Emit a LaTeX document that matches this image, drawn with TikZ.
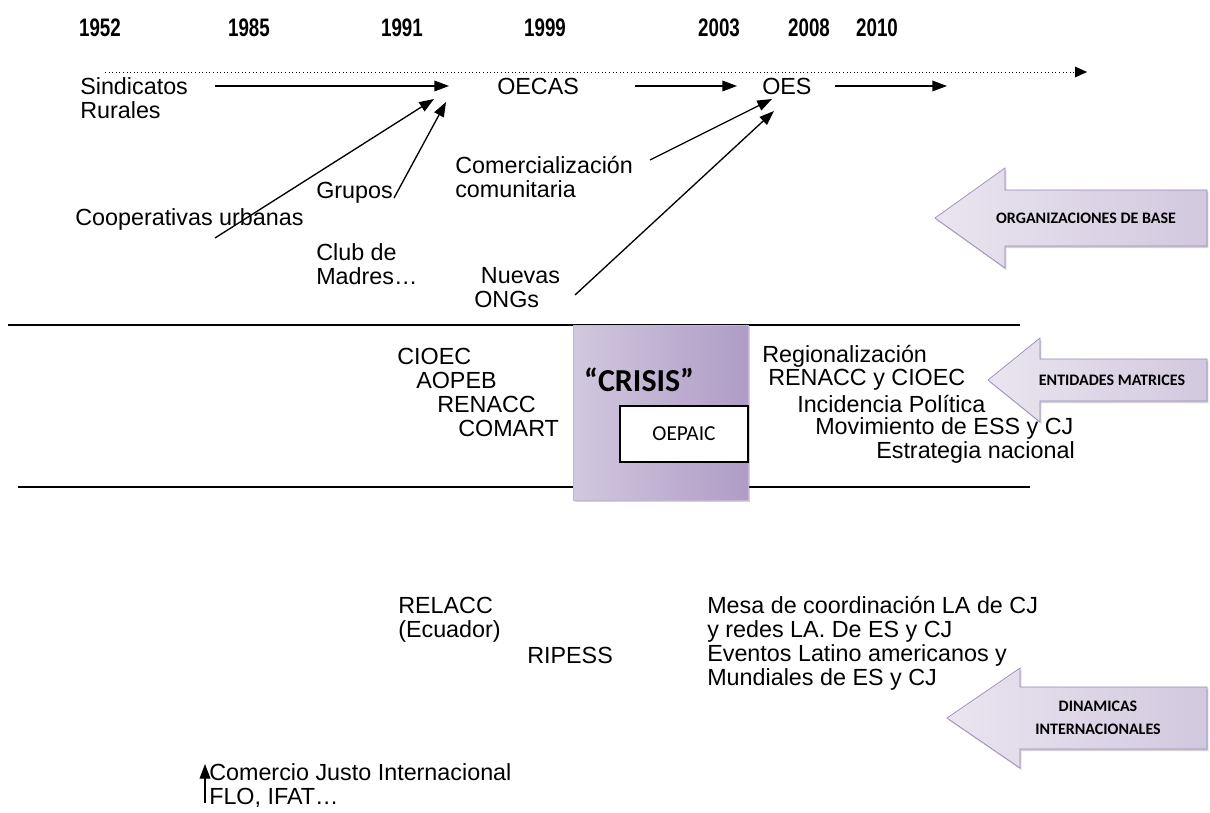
\documentclass[tikz,border=0pt]{standalone}
\usepackage{fontspec}
\setmainfont{Liberation Sans}
\newfontfamily\calibri{Carlito}
\newfontfamily\narrow[FakeStretch=0.74]{Liberation Sans}
\usetikzlibrary{arrows.meta,shadows}

\definecolor{lavlight}{HTML}{EAE5F0}
\definecolor{lavmid}{HTML}{D2C8DF}
\definecolor{lavdark}{HTML}{AE9CC6}
\definecolor{lavedge}{HTML}{9A86B8}

\tikzset{
    txt/.style={anchor=west, inner sep=0pt, align=left, font=\fontsize{17.5}{18}\selectfont},
    year/.style={inner sep=0pt, font=\narrow\bfseries\fontsize{19}{20}\selectfont},
    conn/.style={-{Triangle[length=11pt,width=8pt]}, line width=1pt},
    timeline/.style={dotted, line width=0.7pt, -{Triangle[length=9pt,width=8pt]}},
    sepline/.style={line width=1pt},
    bigarrow/.style={left color=lavlight, right color=lavmid, draw=lavedge, line width=0.5pt,
        drop shadow={opacity=0.35, shadow xshift=1pt, shadow yshift=-1.5pt}},
    armlabel/.style={align=center, inner sep=0pt, font=\calibri\bfseries\fontsize{12}{17.5}\selectfont},
    crisisbox/.style={left color=lavmid, middle color=lavlight, right color=lavdark, draw=lavedge!60,
        drop shadow={opacity=0.35, shadow xshift=1.5pt, shadow yshift=-1.5pt}},
}

\begin{document}
\begin{tikzpicture}[x=0.75pt, y=-0.75pt]
    \path[fill=white, use as bounding box] (0,0) rectangle (1210,813);

    % Years and time line
    \foreach \yr/\x in {1952/100,1985/249,1991/402,1999/545,2003/719,2008/809,2010/877} {
        \node[year] (y\yr) at (\x,28) {\yr};
    }
    \coordinate (t0) at (105,72);
    \coordinate (t1) at (1087,72);
    \draw[timeline] (t0) -- (t1);

    % Organizaciones de base
    \node[txt] (sind) at (80,98) {Sindicatos\\Rurales};
    \node[txt] (oecas) at (497,86) {OECAS};
    \node[txt] (oes) at (762,86) {OES};
    \node[txt] (coop) at (75,219) {Cooperativas urbanas};
    \node[txt] (grupos) at (316,193) {Grupos};
    \node[txt] (club) at (316,264) {Club de\\Madres…};
    \node[txt] (comer) at (455,177) {Comercialización\\comunitaria};
    \node[txt] (ongs) at (474,288) {\hspace*{5pt}Nuevas\\ONGs};

    \coordinate (s0) at (215,86);   \coordinate (s1) at (449,86);
    \coordinate (o0) at (635,86);   \coordinate (o1) at (737,86);
    \coordinate (e0) at (835,86);   \coordinate (e1) at (947,86);
    \coordinate (c0) at (215,238);  \coordinate (c1) at (434,99);
    \coordinate (g0) at (394,198);  \coordinate (g1) at (446,102);
    \coordinate (m0) at (650,160);  \coordinate (m1) at (772,99);
    \coordinate (n0) at (575,295);  \coordinate (n1) at (774,111);

    \draw[conn] (s0) -- (s1);
    \draw[conn] (o0) -- (o1);
    \draw[conn] (e0) -- (e1);
    \draw[conn] (c0) -- (c1);
    \draw[conn] (g0) -- (g1);
    \draw[conn] (m0) -- (m1);
    \draw[conn] (n0) -- (n1);

    % Separators
    \coordinate (l1a) at (8,325);   \coordinate (l1b) at (1020,325);
    \coordinate (l2a) at (18,487);  \coordinate (l2b) at (1030,487);
    \draw[sepline] (l1a) -- (l1b);
    \draw[sepline] (l2a) -- (l2b);

    % Entidades matrices
    \foreach \nm/\x/\y in {CIOEC/397/356,AOPEB/416/380,RENACC/437/404,COMART/458/428} {
        \node[txt] (\nm) at (\x,\y) {\nm};
    }
    \foreach \lbl/\x/\y [count=\i] in {Regionalización/762/356,RENACC y CIOEC/768/380,
            Incidencia Política/797/404,Movimiento de ESS y CJ/815/428,Estrategia nacional/876/452} {
        \node[txt] (ent\i) at (\x,\y) {\lbl};
    }

    % Crisis
    \node[crisisbox, minimum width=131.25pt, minimum height=131.25pt] (crisis) at (660.5,412.5) {};
    \node[font=\calibri\bfseries\fontsize{24}{26}\selectfont, inner sep=0pt] (crisislbl) at (639,380) {“CRISIS”};
    \node[draw, fill=white, line width=1pt, minimum width=96pt, minimum height=42pt,
        font=\calibri\fontsize{16}{18}\selectfont] (oepaic) at (684,434) {OEPAIC};

    % Dinamicas internacionales
    \node[txt] (relacc) at (398,620) {RELACC\\(Ecuador)};
    \node[txt] (ripess) at (527,655) {RIPESS};
    \node[txt] (mesa) at (707,643.5) {Mesa de coordinación LA de CJ\\y redes LA. De ES y CJ\\Eventos Latino americanos y\\Mundiales de ES y CJ};
    \node[txt] (cji) at (209,785.5) {Comercio Justo Internacional\\FLO, IFAT…};
    \coordinate (f0) at (205,803);
    \coordinate (f1) at (205,764);
    \draw[conn] (f0) -- (f1);

    % Big arrows
    \foreach \nm/\tx/\ty/\hx/\hh/\sh/\lx/\lbl in {
            orgbase/935/218/1005/50/28/1086/{ORGANIZACIONES DE BASE},
            entmat/988/380/1040/42/21/1112/{ENTIDADES MATRICES},
            dinint/947/718/1020/50/31/1098/{DINAMICAS\\INTERNACIONALES}} {
        \path[bigarrow] (\tx,\ty) -- (\hx,\ty-\hh) -- (\hx,\ty-\sh) -- (1207,\ty-\sh)
            -- (1207,\ty+\sh) -- (\hx,\ty+\sh) -- (\hx,\ty+\hh) -- cycle;
        \node[armlabel] (\nm) at (\lx,\ty) {\lbl};
    }
\end{tikzpicture}
\end{document}
